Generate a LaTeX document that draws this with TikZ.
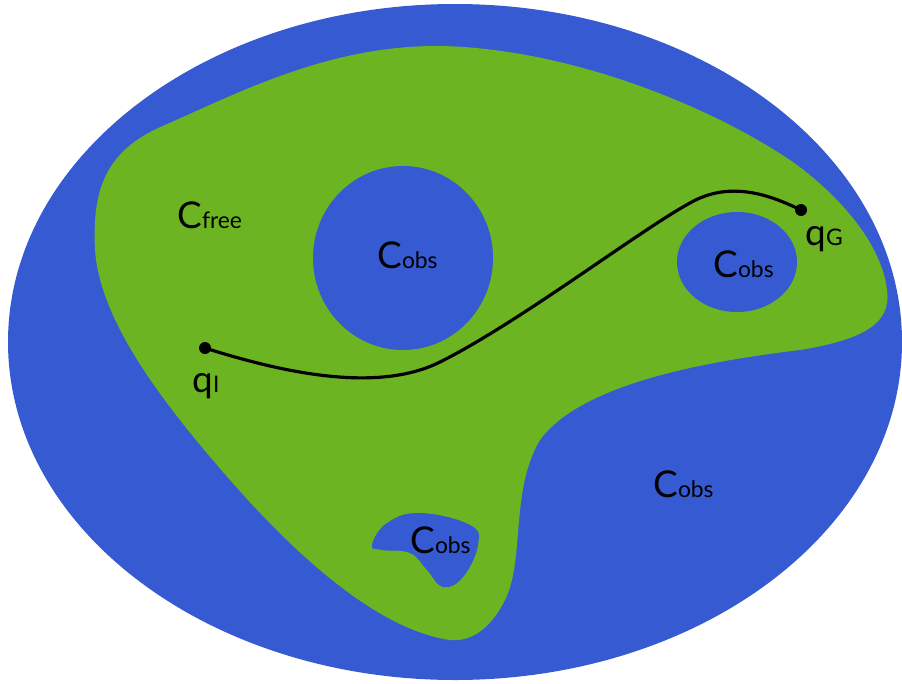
\documentclass[tikz,border=0pt]{standalone}
\usepackage{fontspec}
\setmainfont{Lato}
\usetikzlibrary{positioning}
\definecolor{obsblue}{RGB}{54,90,210}
\definecolor{freegreen}{RGB}{108,180,34}
\newcommand{\spacelbl}[2]{{\fontsize{21}{21}\selectfont #1}{\fontsize{13}{13}\selectfont #2}}

\begin{document}
\begin{tikzpicture}[
    x=0.02cm, y=-0.02cm,
    obs/.style={fill=obsblue},
    free/.style={fill=freegreen},
    lbl/.style={inner sep=0pt, anchor=base west, text=black},
    dot/.style={circle, fill=black, inner sep=0pt, minimum size=0.24cm}
]
    \useasboundingbox (0,0) rectangle (902,683);

    % outer region
    \fill[obs] (455,342) ellipse [x radius=447, y radius=338];
    % free space
    \fill[free] (95,250) .. controls (92,190) and (105,150) .. (165,125)
        .. controls (240,92) and (330,45) .. (440,46)
        .. controls (560,48) and (700,100) .. (790,160)
        .. controls (840,195) and (882,245) .. (887,290)
        .. controls (892,325) and (860,340) .. (800,350)
        .. controls (700,362) and (580,385) .. (540,440)
        .. controls (510,490) and (525,560) .. (505,600)
        .. controls (490,630) and (470,642) .. (450,640)
        .. controls (380,630) and (300,560) .. (230,480)
        .. controls (160,400) and (100,320) .. (95,250) -- cycle;
    % obstacles
    \fill[obs] (403,258) ellipse [x radius=90, y radius=92];
    \fill[obs] (737,262) ellipse [x radius=60, y radius=50];
    \fill[obs] plot[smooth cycle, tension=0.7] coordinates {
        (372,545) (387,523) (420,513) (470,525) (478,545) (463,577)
        (443,587) (427,570) (410,553) (382,550)};

    \node[lbl] (cfree) at (177,228) {\spacelbl{C}{free}};
    \node[lbl] (cobsa) at (377,268) {\spacelbl{C}{obs}};
    \node[lbl] (cobsb) at (713,277) {\spacelbl{C}{obs}};
    \node[lbl] (cobsc) at (653,497) {\spacelbl{C}{obs}};
    \node[lbl] (cobsd) at (410,553) {\spacelbl{C}{obs}};

    % path from start to goal
    \node[dot] (qi) at (205,348) {};
    \node[dot] (qg) at (801,210) {};
    \node[lbl] (qilbl) at (192,392) {\spacelbl{q}{I}};
    \node[lbl] (qglbl) at (805,245) {\spacelbl{q}{G}};

    \draw[line width=1.8pt] (qi.center) .. controls (290,375) and (380,392) .. (440,362)
        .. controls (520,322) and (640,230) .. (690,203)
        .. controls (730,180) and (770,195) .. (qg.center);
\end{tikzpicture}
\end{document}
